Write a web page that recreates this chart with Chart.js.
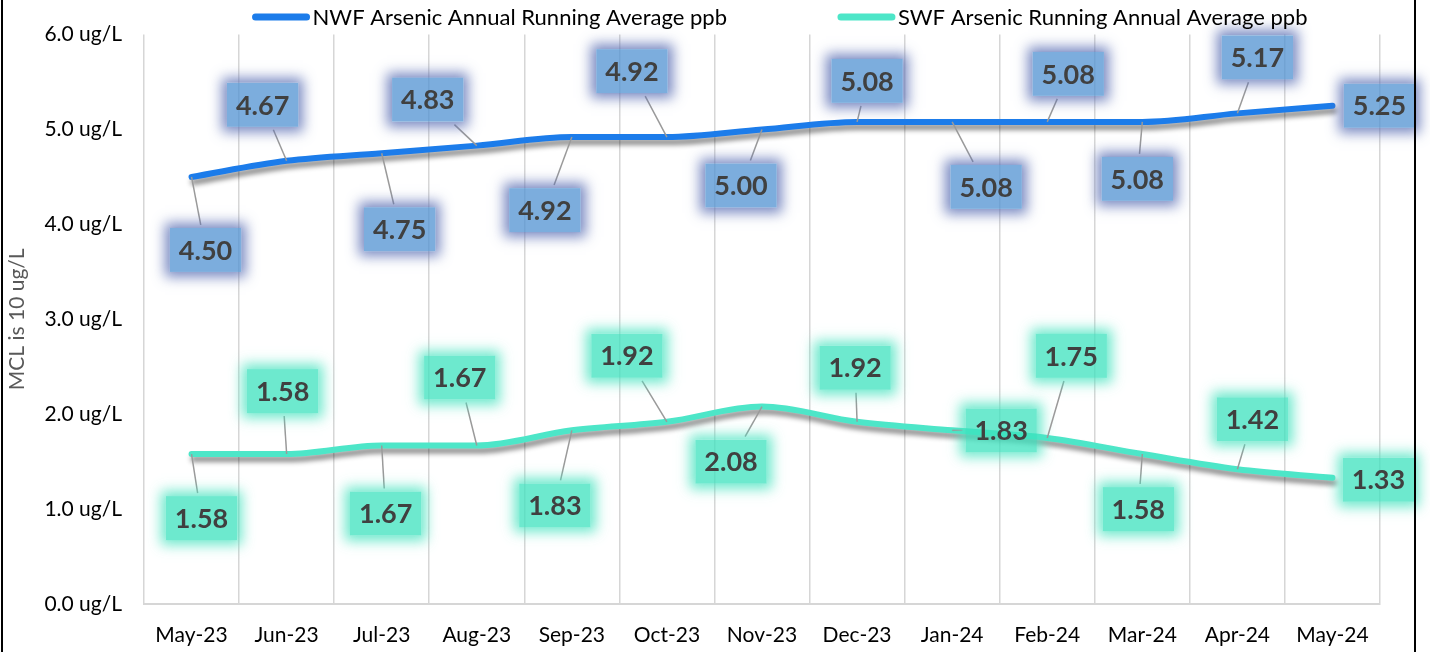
<!DOCTYPE html>
<html>
<head>
<meta charset="utf-8">
<script src="https://cdn.jsdelivr.net/npm/chart.js@4/dist/chart.umd.min.js"></script>
<style>
  html, body { margin: 0; padding: 0; background: #fff; }
  #wrap { position: relative; width: 1430px; height: 652px; }
</style>
</head>
<body>
<div id="wrap"><canvas id="arsenicChart" width="1430" height="652"></canvas></div>
<script>
// ===== DATA =====
const months = ["May-23", "Jun-23", "Jul-23", "Aug-23", "Sep-23", "Oct-23", "Nov-23",
  "Dec-23", "Jan-24", "Feb-24", "Mar-24", "Apr-24", "May-24"];
const nwfValues = [4.50, 4.67, 4.75, 4.83, 4.92, 4.92, 5.00, 5.08, 5.08, 5.08, 5.08, 5.17, 5.25];
const swfValues = [1.58, 1.58, 1.67, 1.67, 1.83, 1.92, 2.08, 1.92, 1.83, 1.75, 1.58, 1.42, 1.33];
const yMin = 0, yMax = 6, yStep = 1;
const yUnit = " ug/L";
const yTitle = "MCL is 10 ug/L";
const nwfName = "NWF Arsenic Annual Running Average ppb";
const swfName = "SWF Arsenic Running Annual Average ppb";

// ===== LABEL PLACEMENT (pixel offsets of each label box from its point) =====
const nwfLabelOffset = [[14, 73], [-24, -56], [18, 76], [-49, -46], [-27, 73], [-35, -66], [-21, 56],
  [10, -41], [34, 65], [21, -48], [-5, 57], [20, -56], [47, 0]];
const swfLabelOffset = [[10, 64], [-4, -63], [4, 68], [-17, -68], [-17, 75], [-40, -66], [-31, 55],
  [-2, -54], [49, 0], [24, -82], [-4, 55], [15, -50], [46, 2]];

const FONT = "Lato, 'Open Sans', sans-serif";
const NWF_COLOR = "#1C7CEA";
const SWF_COLOR = "#4DE6C8";

const labelStyles = [
  { offsets: nwfLabelOffset, fill: "rgba(80,145,210,0.75)", glow: "rgba(90,110,180,0.8)" },
  { offsets: swfLabelOffset, fill: "rgba(60,225,190,0.75)", glow: "rgba(75,228,192,0.8)" }
];

// ===== PLUGINS =====
const lineShadow = {
  id: "lineShadow",
  beforeDatasetDraw(chart) {
    const ctx = chart.ctx;
    ctx.save();
    ctx.shadowColor = "rgba(0,0,0,0.45)";
    ctx.shadowBlur = 5;
    ctx.shadowOffsetX = 2;
    ctx.shadowOffsetY = 5;
  },
  afterDatasetDraw(chart) {
    chart.ctx.restore();
  }
};

const valueLabels = {
  id: "valueLabels",
  afterDatasetsDraw(chart) {
    const ctx = chart.ctx;
    ctx.save();
    ctx.font = "bold 27px " + FONT;
    chart.data.datasets.forEach((ds, di) => {
      const meta = chart.getDatasetMeta(di);
      const st = labelStyles[di];
      meta.data.forEach((pt, i) => {
        const off = st.offsets[i];
        const cx = pt.x + off[0], cy = pt.y + off[1];
        const txt = ds.data[i].toFixed(2);
        const w = ctx.measureText(txt).width + 18, h = 44;
        const bx = cx - w / 2, by = cy - h / 2;

        // leader line
        const dx = pt.x - cx, dy = pt.y - cy;
        const sx = dx !== 0 ? (w / 2 + 3) / Math.abs(dx) : Infinity;
        const sy = dy !== 0 ? (h / 2 + 3) / Math.abs(dy) : Infinity;
        const s = Math.min(sx, sy);
        const len = Math.hypot(dx, dy);
        if (s < 1 && (1 - s) * len > 10) {
          ctx.strokeStyle = "#9A9A9A";
          ctx.lineWidth = 1.5;
          ctx.beginPath();
          ctx.moveTo(cx + dx * s, cy + dy * s);
          ctx.lineTo(pt.x, pt.y);
          ctx.stroke();
        }

        // glow outside the box only
        ctx.save();
        ctx.beginPath();
        ctx.rect(bx - 40, by - 40, w + 80, h + 80);
        ctx.rect(bx, by, w, h);
        ctx.clip("evenodd");
        ctx.shadowColor = st.glow;
        ctx.shadowBlur = 12;
        ctx.shadowOffsetX = 3000;
        ctx.fillStyle = "#000";
        ctx.fillRect(bx - 5 - 3000, by - 5, w + 10, h + 10);
        ctx.restore();

        // box
        ctx.fillStyle = st.fill;
        ctx.fillRect(bx, by, w, h);
        ctx.fillStyle = "#404040";
        ctx.textAlign = "center";
        ctx.textBaseline = "middle";
        ctx.fillText(txt, cx, cy + 1);
      });
    });
    ctx.restore();
  }
};

const legendAndFrame = {
  id: "legendAndFrame",
  afterDraw(chart) {
    const ctx = chart.ctx;
    ctx.save();
    ctx.font = "22px " + FONT;
    ctx.textBaseline = "middle";
    ctx.textAlign = "left";
    const items = [[nwfName, NWF_COLOR], [swfName, SWF_COLOR]];
    const sw = 57, gapText = 3, gapItem = 111;
    const widths = items.map(it => ctx.measureText(it[0]).width);
    const total = widths.reduce((a, b) => a + b, 0) + items.length * (sw + gapText) + gapItem;
    let x = 780 - total / 2;
    const y = 17;
    items.forEach((it, i) => {
      ctx.strokeStyle = it[1];
      ctx.lineWidth = 7;
      ctx.lineCap = "round";
      ctx.beginPath();
      ctx.moveTo(x + 3, y);
      ctx.lineTo(x + sw - 3, y);
      ctx.stroke();
      ctx.fillStyle = "#000";
      ctx.fillText(it[0], x + sw + gapText, y + 1);
      x += sw + gapText + widths[i] + gapItem;
    });

    // outer frame lines
    ctx.strokeStyle = "#000";
    ctx.lineWidth = 2;
    ctx.beginPath();
    ctx.moveTo(2, 0); ctx.lineTo(2, chart.height);
    ctx.moveTo(1415, 0); ctx.lineTo(1415, chart.height);
    ctx.stroke();
    ctx.restore();
  }
};

// ===== CHART =====
const ctx = document.getElementById("arsenicChart").getContext("2d");
const chart = new Chart(ctx, {
  type: "line",
  data: {
    labels: months,
    datasets: [
      {
        label: nwfName,
        data: nwfValues,
        borderColor: NWF_COLOR,
        backgroundColor: NWF_COLOR,
        borderWidth: 6,
        borderCapStyle: "round",
        borderJoinStyle: "round",
        pointRadius: 0,
        cubicInterpolationMode: "monotone"
      },
      {
        label: swfName,
        data: swfValues,
        borderColor: SWF_COLOR,
        backgroundColor: SWF_COLOR,
        borderWidth: 6,
        borderCapStyle: "round",
        borderJoinStyle: "round",
        pointRadius: 0,
        cubicInterpolationMode: "monotone"
      }
    ]
  },
  options: {
    responsive: false,
    animation: false,
    layout: { padding: { top: 32, right: 50, left: 0, bottom: 0 } },
    plugins: {
      legend: { display: false },
      tooltip: { enabled: false }
    },
    scales: {
      x: {
        offset: true,
        grid: { offset: true, color: "#D6D6D6", lineWidth: 1.5, drawTicks: false },
        border: { color: "#D6D6D6", width: 2 },
        ticks: { color: "#000", font: { family: FONT, size: 21 }, padding: 19, maxRotation: 0 },
        afterFit(scale) { scale.height = 48; }
      },
      y: {
        min: yMin,
        max: yMax,
        grid: { display: false, drawTicks: false },
        border: { display: false },
        ticks: {
          stepSize: yStep,
          color: "#000",
          font: { family: FONT, size: 21 },
          padding: 22,
          callback: v => v.toFixed(1) + yUnit
        },
        title: {
          display: true,
          text: yTitle,
          color: "#595959",
          font: { family: FONT, size: 21 },
          padding: { top: 5, bottom: 0 }
        },
        afterFit(scale) { scale.width = 144; }
      }
    }
  },
  plugins: [lineShadow, valueLabels, legendAndFrame]
});
</script>
</body>
</html>
